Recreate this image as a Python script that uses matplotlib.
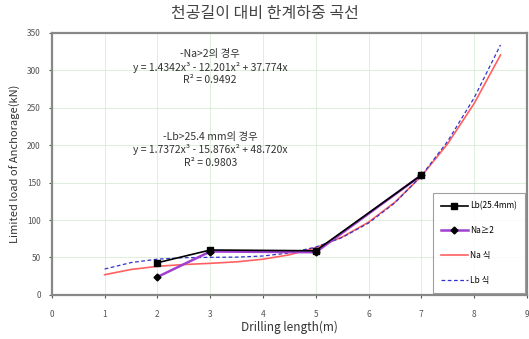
import matplotlib
matplotlib.use("Agg")
import matplotlib.pyplot as plt

plt.rcParams['font.family'] = ['Noto Sans CJK KR', 'DejaVu Sans']

# measured points
lb_x = [2, 3, 5, 7]
lb_y = [43, 60, 59, 160]
na_x = [2, 3, 5, 7]
na_y = [24, 58, 57, 160]

# trend lines
trend_x = [1, 1.5, 2, 2.5, 3, 3.5, 4, 4.5, 5, 5.5, 6, 6.5, 7, 7.5, 8, 8.5]
na_fit = [27, 34, 38.2, 40.6, 42.2, 44.2, 47.7, 53.6, 63.1, 77.3, 97.2, 123.9, 158.5, 202, 255.6, 320.4]
lb_fit = [34.6, 43.2, 47.8, 49.7, 50.2, 50.5, 52, 56.1, 63.9, 76.7, 96, 123, 159, 205.3, 263.1, 333.9]

labels = ["Lb(25.4mm)", "Na≥2", "Na 식", "Lb 식"]
x_ticks = list(range(0, 10))
y_ticks = list(range(0, 351, 50))

fig = plt.figure(figsize=(5.29, 3.39), dpi=100)
ax = fig.add_axes([0.098, 0.13, 0.898, 0.773])

ax.plot(lb_x, lb_y, color="black", marker="s", markersize=5, linewidth=1.2, zorder=4, label=labels[0])
ax.plot(na_x, na_y, color="#a040d0", marker="D", markersize=3.5, markerfacecolor="black",
        markeredgecolor="black", linewidth=1.8, zorder=3, label=labels[1])
ax.plot(trend_x, na_fit, color="#ff6060", linewidth=1.2, zorder=2, label=labels[2])
ax.plot(trend_x, lb_fit, color="#3333cc", linestyle="--", linewidth=0.9, dashes=(3, 2), zorder=2, label=labels[3])

ax.set_xlim(0, 9)
ax.set_ylim(0, 350)
ax.set_xticks(x_ticks)
ax.set_yticks(y_ticks)
ax.grid(True, color="#d8ecd8", linewidth=0.6)
ax.tick_params(labelsize=6, colors="#555555", length=2)
ax.tick_params(axis="x", pad=9)
ax.tick_params(axis="y", pad=6)
for s in ax.spines.values():
    s.set_color("#888888")
    s.set_linewidth(1.6)

ax.set_xlabel("Drilling length(m)", fontsize=8.5, color="#333333", labelpad=1)
ax.set_ylabel("Limited load of Anchorage(kN)", fontsize=8, color="#333333", labelpad=4)
fig.suptitle("천공길이 대비 한계하중 곡선", fontsize=11.5, color="#444444", y=0.985)

ax.text(3.0, 328, "-Na>2의 경우\ny = 1.4342x³ - 12.201x² + 37.774x\nR² = 0.9492",
        ha="center", va="top", fontsize=7.5, color="#333333", linespacing=1.3)
ax.text(3.0, 218, "-Lb>25.4 mm의 경우\ny = 1.7372x³ - 15.876x² + 48.720x\nR² = 0.9803",
        ha="center", va="top", fontsize=7.5, color="#333333", linespacing=1.3)

leg = ax.legend(loc="lower right", bbox_to_anchor=(1.0, 0.0), borderaxespad=0.2,
                fontsize=6, frameon=True, fancybox=False, edgecolor="#888888",
                labelspacing=1.9, handlelength=3.2, borderpad=1.0, handletextpad=0.3)
leg.get_frame().set_linewidth(0.8)

fig.savefig("out.png", dpi=100)
